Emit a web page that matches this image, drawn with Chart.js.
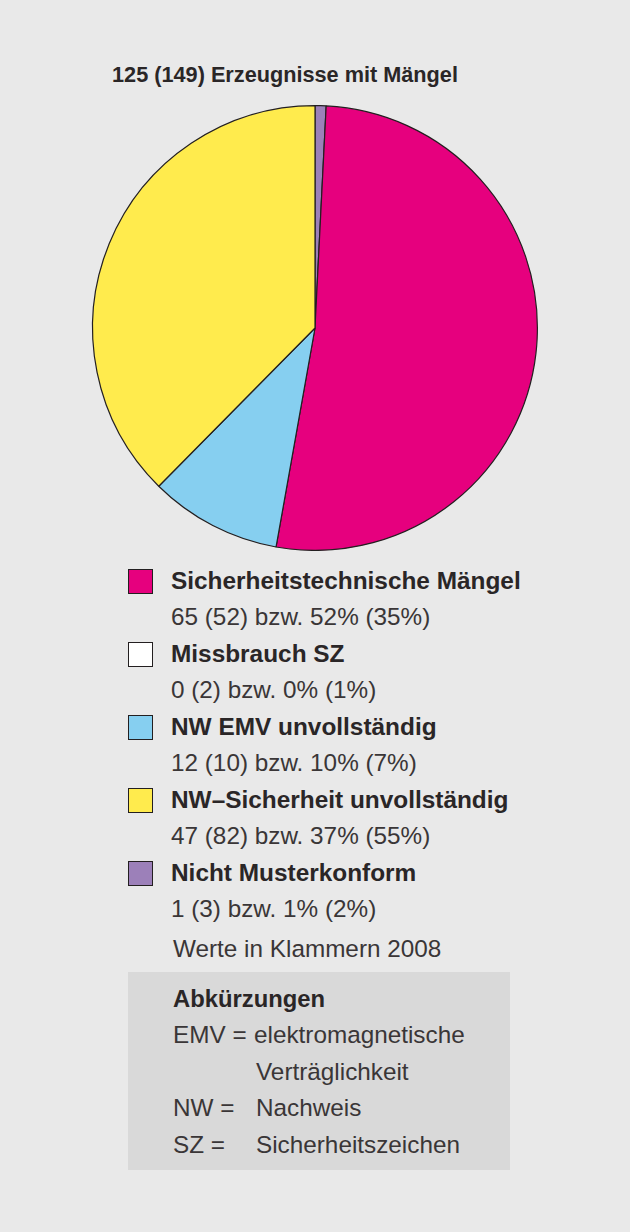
<!DOCTYPE html>
<html>
<head>
<meta charset="utf-8">
<script src="https://cdn.jsdelivr.net/npm/chart.js@4"></script>
<style>
  html, body { margin: 0; padding: 0; }
  body {
    width: 630px; height: 1232px; background: #e9e9e9; position: relative;
    font-family: "Liberation Sans", Arial, sans-serif; color: #231f20; overflow: hidden;
  }
  .abs { position: absolute; white-space: nowrap; line-height: 30px; }
  #title { left: 0; width: 570px; text-align: center; top: 60px; font-size: 21.7px; font-weight: bold; color: #2a2627; }
  .chart-container { position: absolute; left: 0; top: 105px; width: 630px; height: 446px; }
  .box { position: absolute; width: 23px; height: 23px; border: 1px solid #231f20; }
  .lbl { font-size: 24.4px; font-weight: bold; color: #2a2627; }
  .sub { font-size: 24.3px; color: #3a3637; }
  #abbr { position: absolute; left: 128px; top: 972px; width: 382px; height: 198px; background: #d9d9d9; }
</style>
</head>
<body>
<div id="title" class="abs">125 (149) Erzeugnisse mit Mängel</div>
<div class="chart-container"><canvas id="pieChart"></canvas></div>
<div id="legend"></div>
<div id="abbr"></div>
<div id="abbrText"></div>
<script>
// legend order (as printed)
const labels = ["Sicherheitstechnische Mängel", "Missbrauch SZ", "NW EMV unvollständig", "NW\u2013Sicherheit unvollständig", "Nicht Musterkonform"];
const values2009 = [65, 0, 12, 47, 1];
const values2008 = [52, 2, 10, 82, 3];
const percent2009 = [52, 0, 10, 37, 1];
const percent2008 = [35, 1, 7, 55, 2];
const colors = ["#e6007e", "#ffffff", "#86cff0", "#ffeb4d", "#9c80b9"];
// order of slices clockwise from the top
const pieOrder = [4, 0, 1, 2, 3];
const note = "Werte in Klammern 2008";
const abbrTitle = "Abkürzungen";
const abbrKeys = ["EMV =", "", "NW =", "SZ ="];
const abbrValues = ["elektromagnetische", "Verträglichkeit", "Nachweis", "Sicherheitszeichen"];

const ctx = document.getElementById('pieChart').getContext('2d');

const chart = new Chart(ctx, {
  type: 'pie',
  data: {
    labels: pieOrder.map(i => labels[i]),
    datasets: [{
      data: pieOrder.map(i => values2009[i]),
      backgroundColor: pieOrder.map(i => colors[i]),
      borderColor: "#231f20",
      borderWidth: 1.2
    }]
  },
  options: {
    responsive: true,
    maintainAspectRatio: false,
    animation: false,
    layout: { padding: 0 },
    plugins: {
      legend: { display: false },
      tooltip: { enabled: false }
    }
  }
});

// legend rows
const legend = document.getElementById("legend");
for (let i = 0; i < labels.length; i++){
  const y = 569 + 73 * i;
  const box = document.createElement("div");
  box.className = "box";
  box.style.left = "128px";
  box.style.top = y + "px";
  box.style.background = colors[i];
  legend.appendChild(box);

  const lbl = document.createElement("div");
  lbl.className = "abs lbl";
  lbl.style.left = "171px";
  lbl.style.top = (y - 3) + "px";
  lbl.textContent = labels[i];
  legend.appendChild(lbl);

  const sub = document.createElement("div");
  sub.className = "abs sub";
  sub.style.left = "171px";
  sub.style.top = (y + 33) + "px";
  sub.textContent = values2009[i] + " (" + values2008[i] + ") bzw. " + percent2009[i] + "% (" + percent2008[i] + "%)";
  legend.appendChild(sub);
}
const noteEl = document.createElement("div");
noteEl.className = "abs sub";
noteEl.style.left = "173px";
noteEl.style.top = "934px";
noteEl.textContent = note;
legend.appendChild(noteEl);

// abbreviations
const abbrText = document.getElementById("abbrText");
const t = document.createElement("div");
t.className = "abs lbl";
t.style.left = "173px";
t.style.top = "984px";
t.style.fontSize = "23.8px";
t.textContent = abbrTitle;
abbrText.appendChild(t);
for (let i = 0; i < abbrKeys.length; i++){
  const y = 1020 + 36.5 * i;
  const k = document.createElement("div");
  k.className = "abs sub";
  k.style.left = "173px";
  k.style.top = y + "px";
  k.textContent = abbrKeys[i];
  abbrText.appendChild(k);
  const v = document.createElement("div");
  v.className = "abs sub";
  v.style.left = (i === 0 ? "254px" : "256px");
  v.style.top = y + "px";
  v.textContent = abbrValues[i];
  abbrText.appendChild(v);
}
</script>
</body>
</html>
